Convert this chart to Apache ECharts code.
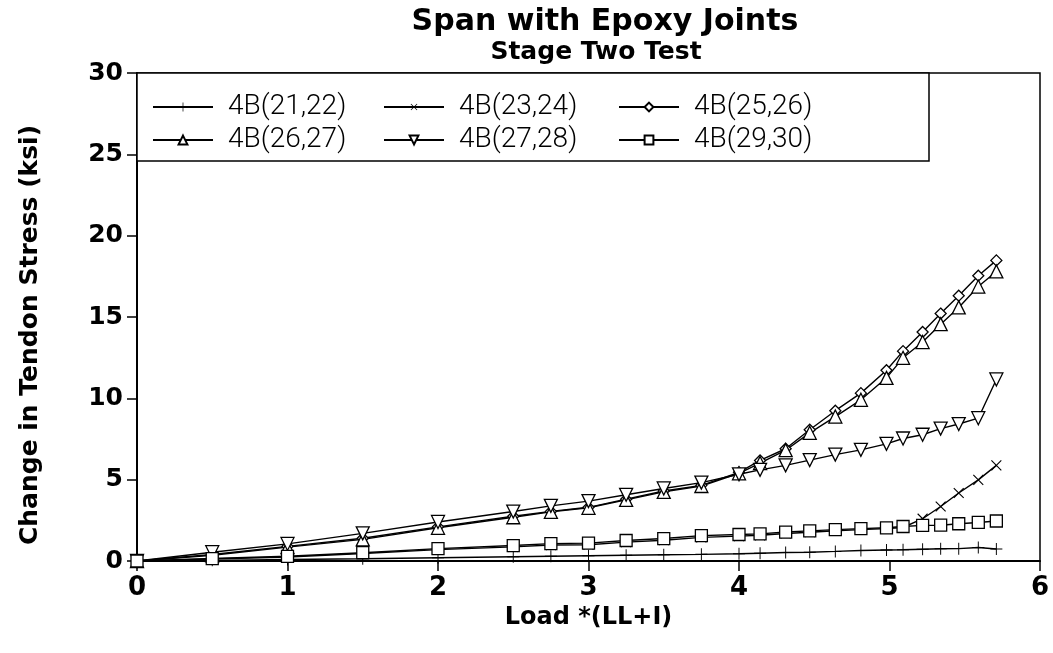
<!DOCTYPE html>
<html><head><meta charset="utf-8">
<script src="https://cdn.jsdelivr.net/npm/echarts@6/dist/echarts.min.js"></script>
<style>html,body{margin:0;padding:0;background:#fff}#c{width:1053px;height:653px}</style>
</head><body><div id="c"></div>
<script>
// Load *(LL+I)
const loads = [0,0.5,1,1.5,2,2.5,2.75,3,3.25,3.5,3.75,4,4.14,4.31,4.47,4.64,4.81,4.98,5.09,5.22,5.34,5.46,5.59,5.71];
// Change in tendon stress (ksi)
const s2122 = [0,0.04,0.09,0.14,0.2,0.26,0.29,0.32,0.35,0.38,0.41,0.45,0.48,0.52,0.54,0.59,0.65,0.68,0.69,0.72,0.75,0.76,0.83,0.74];
const s2324 = [0,0.12,0.25,0.46,0.7,0.87,0.98,1.0,1.16,1.28,1.45,1.53,1.58,1.69,1.77,1.86,1.93,1.99,2.06,2.6,3.35,4.18,4.99,5.88];
const s2526 = [0,0.4,0.9,1.4,2.1,2.75,3.05,3.3,3.8,4.3,4.65,5.45,6.18,6.9,8.07,9.24,10.32,11.73,12.9,14.08,15.21,16.31,17.54,18.48];
const s2627 = [0,0.35,0.85,1.33,2.04,2.69,3.02,3.27,3.76,4.25,4.61,5.39,6.02,6.81,7.88,8.88,9.91,11.26,12.49,13.46,14.56,15.59,16.87,17.8];
const s2728 = [0,0.54,1.05,1.7,2.4,3.04,3.39,3.68,4.07,4.46,4.82,5.33,5.6,5.88,6.2,6.54,6.83,7.2,7.53,7.76,8.14,8.42,8.78,11.16];
const s2930 = [0,0.15,0.29,0.51,0.76,0.95,1.07,1.1,1.26,1.38,1.56,1.63,1.67,1.78,1.85,1.93,1.99,2.04,2.12,2.19,2.2,2.29,2.37,2.46];
const names = ['4B(21,22)','4B(23,24)','4B(25,26)','4B(26,27)','4B(27,28)','4B(29,30)'];
const xTicks = [0,1,2,3,4,5,6];
const yTicks = [0,5,10,15,20,25,30];

const PLUS = 'path://M0,9.2 L20,9.2 L20,10.8 L0,10.8 Z M9.2,0 L10.8,0 L10.8,20 L9.2,20 Z';
const BOLD = 'DejaVu Sans';

function mk(name, vals, symbol, size, rot, filled) {
  return {
    type: 'line', name: name,
    data: loads.map((x, i) => [x, vals[i]]),
    symbol: symbol, symbolSize: size, symbolRotate: rot || 0,
    showAllSymbol: true, animation: false,
    lineStyle: { color: '#000', width: 1.4 },
    itemStyle: filled ? { color: '#000', borderWidth: 0 } : { color: '#fff', borderColor: '#000', borderWidth: 1.3 },
    emphasis: { disabled: true }
  };
}

const legendBase = {
  orient: 'vertical', itemWidth: 60, itemHeight: 11, itemGap: 5, top: 88, z: 5,
  selectedMode: false,
  textStyle: { fontFamily: 'Roboto', fontWeight: 300, fontSize: 28, color: '#000', padding: [0,0,0,10] }
};

const chart = echarts.init(document.getElementById('c'), null, { renderer: 'canvas' });
chart.setOption({
  backgroundColor: '#fff',
  animation: false,
  title: [
    { text: 'Span with Epoxy Joints', left: 600, top: 2, textAlign: 'center',
      textStyle: { fontFamily: BOLD, fontWeight: 'bold', fontSize: 30, color: '#000' } },
    { text: 'Stage Two Test', left: 591, top: 35, textAlign: 'center',
      textStyle: { fontFamily: BOLD, fontWeight: 'bold', fontSize: 25, color: '#000' } }
  ],
  grid: { left: 137, right: 13, top: 73, bottom: 92, show: true, borderColor: '#000', borderWidth: 1.5, containLabel: false },
  legend: [
    Object.assign({}, legendBase, { left: 147, data: [names[0], names[3]] }),
    Object.assign({}, legendBase, { left: 378, data: [names[1], names[4]] }),
    Object.assign({}, legendBase, { left: 613, data: [names[2], names[5]] })
  ],
  graphic: [
    { type: 'rect', z: 1, shape: { x: 137, y: 73, width: 792, height: 88 },
      style: { fill: '#fff', stroke: '#000', lineWidth: 1.5 } },
    { type: 'text', z: 5, x: 30, y: 335, rotation: Math.PI / 2,
      style: { text: 'Change in Tendon Stress (ksi)', fontFamily: BOLD, fontWeight: 'bold', fontSize: 25,
               fill: '#000', align: 'center', verticalAlign: 'middle' } }
  ],
  xAxis: {
    type: 'value', min: xTicks[0], max: xTicks[xTicks.length - 1], interval: 1,
    name: 'Load *(LL+I)', nameLocation: 'middle', nameGap: 33,
    nameTextStyle: { fontFamily: BOLD, fontWeight: 'bold', fontSize: 24, color: '#000' },
    axisLine: { lineStyle: { color: '#000', width: 2 } },
    axisTick: { length: 10, lineStyle: { color: '#000', width: 1.5 } },
    splitLine: { show: false },
    axisLabel: { fontFamily: BOLD, fontWeight: 'bold', fontSize: 26, color: '#000', margin: 14 }
  },
  yAxis: {
    type: 'value', min: yTicks[0], max: yTicks[yTicks.length - 1], interval: 5,
    axisLine: { lineStyle: { color: '#000', width: 2 } },
    axisTick: { length: 10, lineStyle: { color: '#000', width: 1.5 } },
    splitLine: { show: false },
    axisLabel: { fontFamily: BOLD, fontWeight: 'bold', fontSize: 25, color: '#000', margin: 14 }
  },
  series: [
    mk(names[0], s2122, PLUS, 12, 0, true),
    mk(names[1], s2324, PLUS, 14, 45, true),
    mk(names[2], s2526, 'diamond', 11, 0, false),
    mk(names[3], s2627, 'triangle', 13, 0, false),
    mk(names[4], s2728, 'triangle', 13, 180, false),
    mk(names[5], s2930, 'rect', 12, 0, false)
  ]
});
</script>
</body></html>
